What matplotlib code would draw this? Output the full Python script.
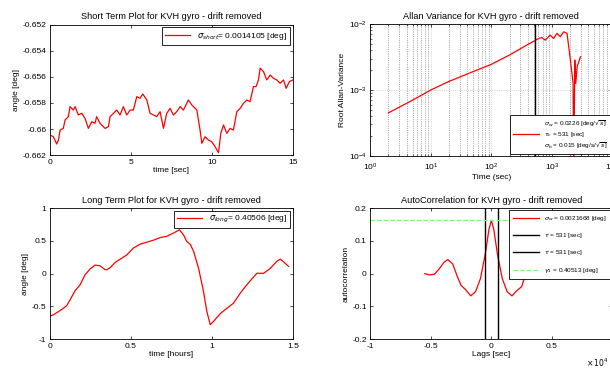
import numpy as np
import matplotlib
matplotlib.use('Agg')
import matplotlib.pyplot as plt
from matplotlib.ticker import FuncFormatter, LogLocator

plt.rcParams['font.family'] = ['Liberation Sans', 'DejaVu Sans']
plt.rcParams['font.size'] = 6
plt.rcParams['mathtext.fontset'] = 'dejavusans'

# short term angle [deg] vs time [sec]
short_t = [0, 0.21, 0.41, 0.52, 0.62, 0.82, 0.93, 1.13, 1.24, 1.44, 1.55, 1.75, 1.96, 2.16,
           2.37, 2.58, 2.78, 2.88, 3.09, 3.40, 3.61, 3.71, 3.92, 4.12, 4.33, 4.53, 4.74, 4.95,
           5.15, 5.36, 5.56, 5.73, 5.98, 6.18, 6.39, 6.59, 6.80, 7.01, 7.21, 7.42, 7.62, 7.83,
           8.04, 8.24, 8.55, 8.76, 9.07, 9.27, 9.38, 9.58, 9.79, 9.99, 10.20, 10.41, 10.55,
           10.72, 10.92, 11.13, 11.33, 11.54, 11.75, 11.95, 12.16, 12.36, 12.57, 12.73, 12.88,
           12.98, 13.19, 13.39, 13.60, 13.80, 14.01, 14.22, 14.42, 14.59, 14.79, 15.0]
short_angle = [-0.66046, -0.66059, -0.66115, -0.66085, -0.66008, -0.65995, -0.65931, -0.65905,
               -0.65828, -0.65854, -0.65828, -0.65892, -0.65879, -0.65918, -0.65995, -0.65944,
               -0.65956, -0.65905, -0.65956, -0.65995, -0.65982, -0.65905, -0.65879, -0.65854,
               -0.65892, -0.65828, -0.65892, -0.65854, -0.65854, -0.65751, -0.65764, -0.65731,
               -0.65777, -0.65879, -0.65892, -0.65905, -0.65867, -0.65995, -0.65879, -0.65841,
               -0.65892, -0.65867, -0.65828, -0.65854, -0.65777, -0.65815, -0.65854, -0.66008,
               -0.66110, -0.66059, -0.66085, -0.66097, -0.66136, -0.66182, -0.66033, -0.65969,
               -0.66033, -0.65995, -0.66008, -0.65867, -0.65841, -0.65803, -0.65777, -0.65790,
               -0.65674, -0.65674, -0.65623, -0.65533, -0.65559, -0.65623, -0.65585, -0.65610,
               -0.65623, -0.65649, -0.65623, -0.65687, -0.65636, -0.65623]

# long term angle [deg] vs time [hours]
long_t = [0, 0.021, 0.052, 0.082, 0.103, 0.124, 0.155, 0.186, 0.216, 0.247, 0.278, 0.309,
          0.340, 0.351, 0.371, 0.402, 0.433, 0.474, 0.515, 0.557, 0.598, 0.639, 0.680, 0.722,
          0.763, 0.800, 0.825, 0.845, 0.866, 0.887, 0.918, 0.948, 0.969, 0.990, 1.010, 1.052,
          1.093, 1.134, 1.175, 1.216, 1.258, 1.278, 1.320, 1.361, 1.402, 1.423, 1.443, 1.474]
long_angle = [-0.646, -0.63, -0.58, -0.53, -0.49, -0.40, -0.26, -0.17, -0.02, 0.07, 0.13, 0.12,
              0.06, 0.06, 0.09, 0.17, 0.22, 0.285, 0.39, 0.45, 0.48, 0.51, 0.55, 0.57,
              0.62, 0.67, 0.59, 0.49, 0.45, 0.34, 0.08, -0.27, -0.58, -0.78, -0.73, -0.61,
              -0.53, -0.45, -0.30, -0.17, -0.05, 0.005, 0.005, 0.08, 0.19, 0.22, 0.18, 0.11]

# allan deviation
allan_tau = [2, 5, 10, 20, 50, 100, 200, 400, 540, 562, 681, 774, 938, 1066, 1212, 1377,
             1565, 1778, 2021, 2239, 2300, 2388, 2480, 2610, 2967]
allan_dev = [4.5e-4, 7.0e-4, 1.0e-3, 1.35e-3, 1.9e-3, 2.45e-3, 3.4e-3, 4.9e-3, 5.7e-3,
             5.86e-3, 6.28e-3, 5.72e-3, 6.81e-3, 6.07e-3, 7.23e-3, 6.43e-3, 7.65e-3, 7.23e-3,
             2.85e-3, 1.26e-3, 5e-5, 2.85e-3, 1.26e-3, 2.25e-3, 3.2e-3]
tau_c = 531

# autocorrelation, lags in units of 1e4 sec
lags = [-0.55, -0.51, -0.47, -0.43, -0.39, -0.36, -0.32, -0.28, -0.25, -0.21, -0.17, -0.13,
        -0.09, -0.05, -0.02, 0.0, 0.02, 0.05, 0.09, 0.13, 0.17, 0.21, 0.25, 0.28, 0.32, 0.36,
        0.39, 0.43, 0.47, 0.51, 0.55]
acorr = [0.000, -0.004, -0.002, 0.015, 0.035, 0.043, 0.030, -0.010, -0.036, -0.050, -0.068,
         -0.055, -0.015, 0.060, 0.135, 0.163, 0.135, 0.060, -0.015, -0.055, -0.068, -0.052,
         -0.040, -0.005, 0.030, 0.043, 0.035, 0.015, -0.002, -0.004, 0.000]
acorr_level = 0.164

fmt = FuncFormatter(lambda v, _: f'{v:g}')
title_fs = 6.6


def matlab_axes(ax):
    ax.tick_params(direction='in', top=True, right=True, length=2.5, width=0.5, pad=2.5)
    for s in ax.spines.values():
        s.set_linewidth(0.6)


def box_legend(ax, loc, handlelength=3, fontsize=6, **kw):
    leg = ax.legend(loc=loc, fancybox=False, framealpha=1, edgecolor='black', fontsize=fontsize,
                    handlelength=handlelength, borderaxespad=0.3, **kw)
    leg.get_frame().set_linewidth(0.6)
    return leg


fig = plt.figure(figsize=(6.1, 3.71), dpi=100)

# short term
ax1 = fig.add_axes([0.082, 0.582, 0.398, 0.351])
ax1.plot(short_t, short_angle, color='red', lw=0.9,
         label=r'$\sigma_{short}$= 0.0014105 [deg]')
ax1.set_xlim(0, 15)
ax1.set_ylim(-0.662, -0.652)
ax1.set_xticks([0, 5, 10, 15])
ax1.set_yticks([-0.662, -0.66, -0.658, -0.656, -0.654, -0.652])
ax1.xaxis.set_major_formatter(fmt)
ax1.yaxis.set_major_formatter(fmt)
ax1.set_xlabel('time [sec]', labelpad=1)
ax1.set_ylabel('angle [deg]', labelpad=2)
ax1.set_title('Short Term Plot for KVH gyro - drift removed', fontsize=title_fs, pad=4)
matlab_axes(ax1)
box_legend(ax1, 'upper right')

# allan variance
ax2 = fig.add_axes([0.607, 0.580, 0.397, 0.355])
ax2.loglog(allan_tau, allan_dev, color='red', lw=0.9,
           label='$\\sigma_w$ = 0.0226 [deg/$\\sqrt{s}$]\n$\\tau_c$ = 531 [sec]\n'
                 '$\\sigma_b$ = 0.015 [deg/s/$\\sqrt{s}$]')
ax2.axvline(tau_c, color='black', lw=1.0)
ax2.set_xlim(1, 1e4)
ax2.set_ylim(1e-4, 1e-2)
ax2.xaxis.set_major_locator(LogLocator(base=10, numticks=10))
ax2.grid(True, which='major', linestyle=':', color='0.7', lw=0.5)
ax2.xaxis.grid(True, which='minor', linestyle=':', color='0.4', lw=0.5)
ax2.set_xlabel('Time (sec)', labelpad=1)
ax2.set_ylabel('Root Allan-Variance', labelpad=2)
ax2.set_title('Allan Variance for KVH gyro - drift removed', fontsize=title_fs, pad=4)
matlab_axes(ax2)
ax2.tick_params(axis='x', pad=4)
ax2.tick_params(which='minor', direction='in', top=True, right=True, length=1.5, width=0.4)
box_legend(ax2, 'lower right', handlelength=4, fontsize=4.6, borderpad=0.5)

# long term
ax3 = fig.add_axes([0.082, 0.086, 0.398, 0.353])
ax3.plot(long_t, long_angle, color='red', lw=0.9,
         label=r'$\sigma_{long}$= 0.40506 [deg]')
ax3.set_xlim(0, 1.5)
ax3.set_ylim(-1, 1)
ax3.set_xticks([0, 0.5, 1, 1.5])
ax3.set_yticks([-1, -0.5, 0, 0.5, 1])
ax3.xaxis.set_major_formatter(fmt)
ax3.yaxis.set_major_formatter(fmt)
ax3.set_xlabel('time [hours]', labelpad=1)
ax3.set_ylabel('angle [deg]', labelpad=2)
ax3.set_title('Long Term Plot for KVH gyro - drift removed', fontsize=title_fs, pad=4)
matlab_axes(ax3)
box_legend(ax3, 'upper right')

# autocorrelation
ax4 = fig.add_axes([0.607, 0.086, 0.397, 0.353])
ax4.plot(lags, acorr, color='red', lw=0.9, label=r'$\sigma_w$ = 0.0021668 [deg]')
ax4.axvline(-tau_c / 1e4, color='black', lw=1.0, label=r'$\tau$ = 531 [sec]')
ax4.axvline(tau_c / 1e4, color='black', lw=1.0, label=r'$\tau$ = 531 [sec]')
ax4.axhline(acorr_level, color='#88ee88', lw=0.9, ls='--', label=r'$\gamma_1$ = 0.40513 [deg]')
ax4.set_xlim(-1, 1)
ax4.set_ylim(-0.2, 0.2)
ax4.set_xticks([-1, -0.5, 0, 0.5, 1])
ax4.set_yticks([-0.2, -0.1, 0, 0.1, 0.2])
ax4.xaxis.set_major_formatter(fmt)
ax4.yaxis.set_major_formatter(fmt)
ax4.set_xlabel('Lags [sec]', labelpad=1)
ax4.set_ylabel('autocorrelation', labelpad=2)
ax4.set_title('AutoCorrelation for KVH gyro - drift removed', fontsize=title_fs, pad=4)
fig.text(0.997, 0.005, r'$\times\,10^4$', ha='right', va='bottom', fontsize=5.5)
matlab_axes(ax4)
box_legend(ax4, 'upper right', handlelength=4, fontsize=4.6, labelspacing=1.3, borderpad=0.6)

fig.savefig('out.png', dpi=100)
